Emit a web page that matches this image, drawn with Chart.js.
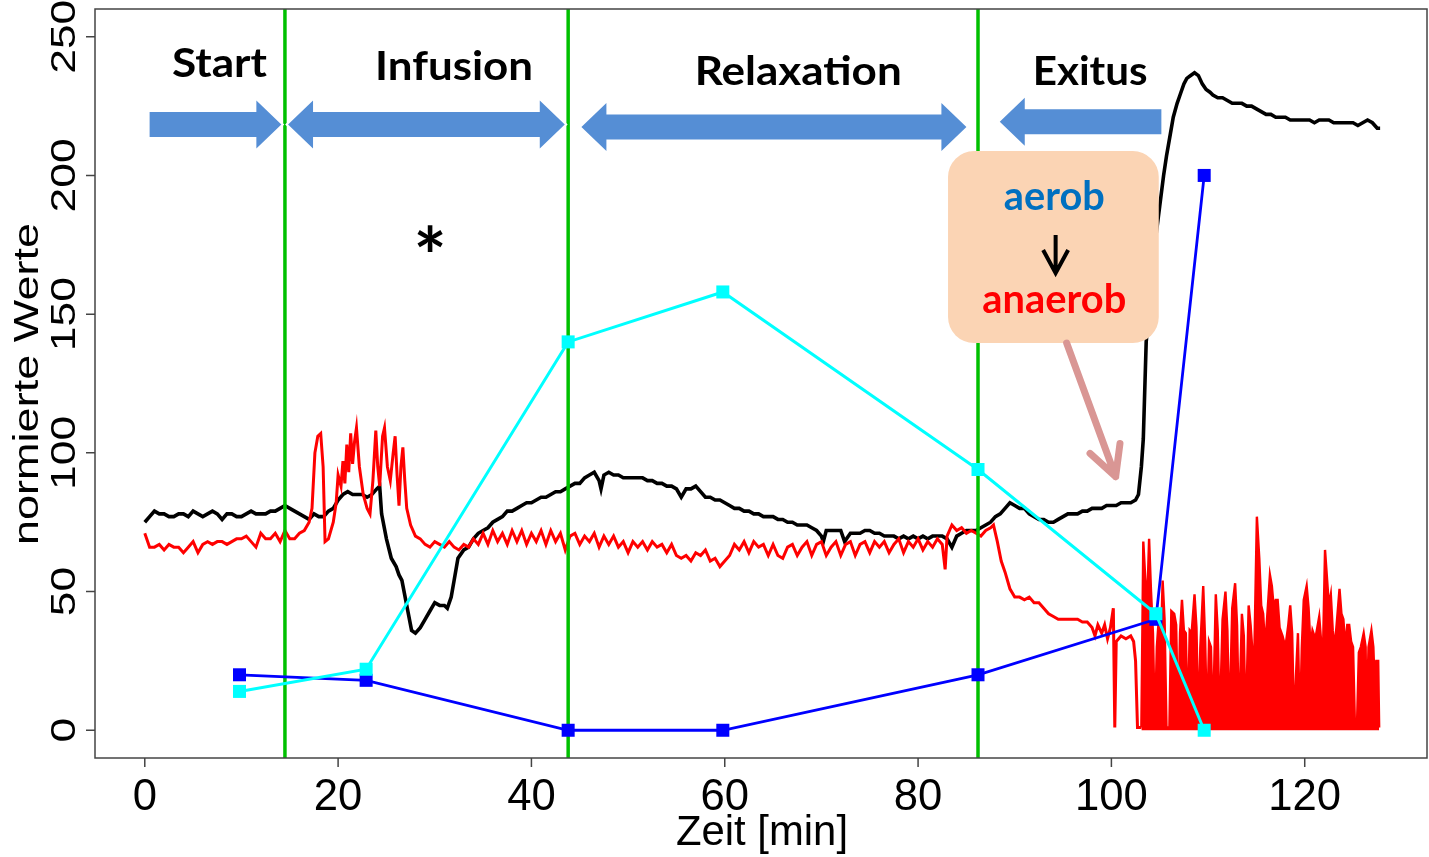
<!DOCTYPE html>
<html>
<head>
<meta charset="utf-8">
<title>normierte Werte</title>
<script src="https://cdn.jsdelivr.net/npm/chart.js@4.4.1/dist/chart.umd.min.js"></script>
<style>
  body { margin: 0; background: #fff; }
  #wrap { width: 1429px; height: 857px; }
</style>
</head>
<body>
<div id="wrap"><canvas id="myChart" width="1429" height="857"></canvas></div>
<script>
// axis ticks
const xTicks = [0, 20, 40, 60, 80, 100, 120];
const yTicks = [0, 50, 100, 150, 200, 250];
const xMin = -5.15, xMax = 132.65, yMin = -10, yMax = 260;

// phases and their borders (min)
const phaseNames = ['Start', 'Infusion', 'Relaxation', 'Exitus'];
const phaseBounds = [14.5, 43.8, 86.2];

// sampled values (squares)
const sampleTimes = [9.8, 22.9, 43.8, 59.8, 86.2, 104.6, 109.6];
const cyanValues = [14, 22, 140, 158, 94, 42, 0];
const blueValues = [20, 18, 0, 0, 20, 40, 200];

// continuous recordings [min, value]
const blackTrace = [
  [0,75],[0.5,77],[1,79],[1.5,78],[2,78],[2.5,77],[3,77],[3.5,78],[4,78],[4.5,77],[5,79],[5.5,78],[6,77],[6.5,78],
  [7,79],[7.5,78],[8,76],[8.5,78],[9,78],[9.5,77],[10,77],[10.5,78],[11,79],[11.5,78],[12,78],[12.5,78],[13,79],
  [13.5,79],[14,80],[14.5,81],[15,80],[15.5,79],[16,78],[16.5,77],[17,76],[17.5,78],[18,77],[18.5,77],[19,79],
  [19.5,80],[20,83],[20.5,85],[21,86],[21.5,85],[22,85],[22.5,85],[23,84],[23.5,85],[24,87],[24.3,88],[24.5,78],
  [25,69],[25.5,62],[26,59],[26.3,56],[26.6,54],[27.1,45],[27.6,36],[28,35],[28.5,37],[29,40],[29.5,43],[30,46],
  [30.5,45],[31,45],[31.3,44],[31.7,48],[32,54],[32.4,62],[33,65],[33.5,66],[34,69],[34.5,71],[35,72],[35.5,73],
  [36,75],[36.5,76],[37,77],[37.5,79],[38,79],[38.5,80],[39,81],[39.5,82],[40,82],[40.5,83],[41,84],[41.5,84],
  [42,85],[42.5,86],[43,86],[43.5,87],[44,88],[44.5,89],[45,89],[45.5,91],[46,92],[46.5,93],[47,90],[47.2,87],
  [47.5,92],[48,93],[48.5,92],[49,92],[49.5,91],[50,91],[50.5,91],[51,91],[51.5,91],[52,90],[52.5,90],[53,89],
  [53.5,89],[54,88],[54.5,88],[55,87],[55.5,84],[56,87],[56.5,87],[57,88],[57.5,86],[58,84],[58.5,84],[59,83],
  [59.5,83],[60,82],[60.5,81],[61,80],[61.5,80],[62,79],[62.5,79],[63,78],[63.5,78],[64,77],[64.5,77],[65,77],
  [65.5,76],[66,76],[66.5,75],[67,75],[67.5,74],[68,74],[68.5,74],[69,73],[69.5,72],[70,70],[70.2,68],[70.5,72],
  [71,72],[71.5,72],[72,72],[72.4,68],[72.8,70],[73,71],[73.5,71],[74,71],[74.5,72],[75,72],[75.5,71],[76,71],
  [76.5,70],[77,70],[77.5,70],[78,69],[78.5,70],[79,69],[79.5,70],[80,69],[80.5,70],[81,69],[81.5,70],[82,70],
  [82.5,70],[83,69],[83.5,66],[84,70],[84.5,71],[85,72],[85.5,72],[86,72],[86.5,73],[87,74],[87.5,75],[88,77],
  [88.5,78],[89,80],[89.5,82],[90,81],[90.5,80],[91,80],[91.5,78],[92,77],[92.5,76],[93,76],[93.5,75],[94,75],
  [94.5,76],[95,77],[95.5,78],[96,78],[96.5,78],[97,79],[97.5,79],[98,80],[98.5,80],[99,80],[99.5,81],[100,81],
  [100.5,81],[101,82],[101.5,82],[102,82],[102.5,83],[102.8,85],[103.1,95],[103.3,105],[103.6,140],[104,155],
  [104.3,165],[104.6,178],[105,189],[105.4,200],[105.7,207],[106.1,215],[106.4,221],[106.8,226],[107.1,229],
  [107.5,233],[107.8,235],[108.2,236],[108.6,237],[109,236],[109.4,233],[109.8,231],[110.2,230],[110.5,229],
  [111,228],[111.5,228],[112,227],[112.5,226],[113,226],[113.5,226],[114,225],[114.5,225],[115,224],[115.5,223],
  [116,222],[116.5,222],[117,221],[117.5,221],[118,221],[118.5,220],[119,220],[119.5,220],[120,220],[120.5,220],
  [121,219],[121.5,220],[122,220],[122.5,220],[123,219],[123.5,219],[124,219],[124.5,219],[125,219],[125.5,218],
  [126,219],[126.5,220],[127,219],[127.5,217],[127.8,217]
];

const redTrace = [
  [0,71],[0.5,66],[1,66],[1.5,67],[2,65],[2.5,67],[3,66],[3.5,66],[4,64],[4.5,66],[5,68],[5.5,64],[6,67],[6.5,68],
  [7,67],[7.5,68],[8,68],[8.5,67],[9,68],[9.5,69],[10,69],[10.5,70],[11,68],[11.5,66],[12,71],[12.5,69],[13,69],
  [13.5,71],[14,68],[14.5,72],[15,69],[15.5,69],[16,71],[16.5,72],[17,75],[17.3,80],[17.6,100],[17.9,106],
  [18.2,107],[18.45,95],[18.65,68],[19,69],[19.5,75],[19.8,82],[20,92],[20.3,88],[20.5,97],[20.7,89],[20.9,103],
  [21.1,93],[21.3,107],[21.5,96],[21.7,104],[21.9,109],[22.2,95],[22.6,85],[23,80],[23.3,78],[23.6,90],[23.9,108],
  [24.1,95],[24.3,88],[24.6,106],[24.8,109],[25.1,95],[25.4,90],[25.7,100],[25.9,106],[26.1,92],[26.3,81],
  [26.5,95],[26.7,102],[26.9,90],[27.1,80],[27.5,74],[28,70],[28.5,69],[29,67],[29.5,66],[30,68],[30.5,67],
  [31,66],[31.5,68],[32,66],[32.5,65],[33,67],[33.5,66],[34,69],[34.5,67],[35,71],[35.5,67],[36,72],[36.5,68],
  [37,71],[37.5,67],[38,72],[38.5,68],[39,72],[39.5,67],[40,71],[40.5,68],[41,72],[41.5,67],[42,72],[42.5,68],
  [43,71],[43.5,65],[44,70],[44.5,71],[45,67],[45.5,70],[46,68],[46.5,71],[47,66],[47.5,70],[48,67],[48.5,70],
  [49,66],[49.5,68],[50,64],[50.5,68],[51,66],[51.5,68],[52,65],[52.5,68],[53,66],[53.5,67],[54,64],[54.5,67],
  [55,63],[55.5,62],[56,63],[56.5,61],[57,64],[57.5,63],[58,65],[58.5,61],[59,62],[59.5,59],[60,61],[60.5,63],
  [61,67],[61.5,65],[62,68],[62.5,64],[63,68],[63.5,66],[64,67],[64.5,63],[65,67],[65.5,63],[66,62],[66.5,66],
  [67,67],[67.5,63],[68,66],[68.5,68],[69,63],[69.5,67],[70,68],[70.5,63],[71,66],[71.5,68],[72,63],[72.5,67],
  [73,68],[73.5,63],[74,67],[74.5,68],[75,64],[75.5,68],[76,66],[76.5,68],[77,64],[77.5,67],[78,69],[78.5,64],
  [79,68],[79.5,66],[80,69],[80.5,65],[81,68],[81.5,66],[82,69],[82.5,67],[82.8,58],[83,70],[83.5,74],[84,72],
  [84.5,73],[85,71],[85.5,72],[86,71],[86.5,70],[87,72],[87.5,73],[87.8,74],[88.2,68],[88.6,61],[89,57],[89.5,51],
  [90,48],[90.5,48],[91,47],[91.5,48],[92,46],[92.5,46],[93,44],[93.5,42],[94,41],[94.5,40],[95,40],[95.5,40],
  [96,40],[96.5,40],[97,39],[97.5,39],[98,37],[98.3,34],[98.6,38],[99,35],[99.3,38],[99.6,33],[99.9,37],
  [100.2,44],[100.35,1],[100.5,32],[101,34],[101.5,33],[102,34],[102.3,32],[102.5,25],[102.7,1],[103.1,1]
];

// after exitus the signal flickers down to zero, drawn as a filled band
const redTail = [
  [103.1,1],[103.3,68],[103.5,55],[103.7,45],[103.9,69],[104.1,50],[104.3,35],[104.5,1],[104.7,30],[104.9,40],
  [105.1,28],[105.3,54],[105.5,40],[105.7,1],[106,1],[106.2,43],[106.5,42],[106.7,38],[106.9,1],[107.1,35],
  [107.3,47],[107.5,36],[107.7,35],[107.9,1],[108.1,36],[108.3,35],[108.6,49],[108.8,37],[109,1],[109.2,30],
  [109.5,52],[109.7,32],[109.9,1],[110.1,32],[110.3,30],[110.5,1],[110.8,49],[111,36],[111.2,1],[111.5,40],
  [111.8,50],[112,36],[112.2,1],[112.5,44],[112.8,53],[113,38],[113.2,1],[113.5,42],[113.7,34],[113.9,1],
  [114.2,45],[114.4,38],[114.6,28],[114.8,30],[115.05,77],[115.3,62],[115.5,45],[115.7,42],[115.9,30],[116.1,40],
  [116.4,56],[116.6,52],[116.8,44],[117,47],[117.2,47],[117.4,37],[117.7,34],[118,30],[118.3,38],[118.5,45],
  [118.7,35],[118.9,1],[119.1,20],[119.3,35],[119.5,1],[119.7,30],[119.9,47],[120.2,52],[120.4,44],[120.6,30],
  [120.8,36],[121.1,33],[121.5,41],[121.7,32],[121.9,30],[122.1,65],[122.3,55],[122.5,45],[122.7,49],[122.9,36],
  [123.1,30],[123.3,38],[123.6,51],[123.8,42],[124,40],[124.2,30],[124.4,38],[124.6,38],[124.8,32],[125,30],
  [125.2,1],[125.4,1],[125.6,28],[125.8,30],[126.1,35],[126.3,30],[126.4,1],[126.6,30],[126.9,36],[127.1,30],
  [127.2,20],[127.4,25],[127.6,25],[127.7,1]
];

// block arrows over the phases: x from/to in min, y centre in axis units
const phaseArrows = [
  { from: 0.5, to: 14.13, y: 218.4, left: false, right: true },
  { from: 14.82, to: 43.45, y: 218.4, left: true, right: true },
  { from: 45.17, to: 85.0, y: 217.5, left: true, right: true },
  { from: 88.45, to: 105.17, y: 219.4, left: true, right: false }
];
// phase label centre x, baseline y, width in px
const phaseLabelPos = [[7.73, 235.5, 95], [32.0, 234.4, 158], [67.6, 232.6, 207], [97.8, 232.6, 115]];

function toPoints(pairs) {
    return pairs.map(p => ({ x: p[0], y: p[1] }));
}

function textStretch(ctx, str, font, width) {
    ctx.save();
    ctx.font = font;
    let w = ctx.measureText(str).width;
    ctx.restore();
    return width / w;
}

function drawText(ctx, str, px, py, font, color, stretch, angle) {
    ctx.save();
    ctx.font = font;
    ctx.fillStyle = color;
    ctx.textAlign = 'center';
    ctx.textBaseline = 'alphabetic';
    ctx.translate(px, py);
    if (angle) ctx.rotate(angle);
    ctx.scale(stretch, 1);
    ctx.fillText(str, 0, 0);
    ctx.restore();
}

function blockArrow(ctx, x0, x1, yc, left, right) {
    const head = 25, hh = 24, sh = 12.5;
    let pts = [];
    if (left) pts.push([x0 + head, yc + sh], [x0 + head, yc + hh], [x0, yc], [x0 + head, yc - hh], [x0 + head, yc - sh]);
    else pts.push([x0, yc + sh], [x0, yc - sh]);
    if (right) pts.push([x1 - head, yc - sh], [x1 - head, yc - hh], [x1, yc], [x1 - head, yc + hh], [x1 - head, yc + sh]);
    else pts.push([x1, yc - sh], [x1, yc + sh]);
    ctx.beginPath();
    pts.forEach((p, i) => i ? ctx.lineTo(p[0], p[1]) : ctx.moveTo(p[0], p[1]));
    ctx.closePath();
    ctx.lineJoin = 'miter';
    ctx.strokeStyle = '#fff';
    ctx.lineWidth = 4;
    ctx.stroke();
    ctx.fillStyle = '#558ED5';
    ctx.fill();
}

function roundBox(ctx, x0, y0, x1, y1, r) {
    ctx.beginPath();
    ctx.moveTo(x0 + r, y0);
    ctx.lineTo(x1 - r, y0);
    ctx.arcTo(x1, y0, x1, y0 + r, r);
    ctx.lineTo(x1, y1 - r);
    ctx.arcTo(x1, y1, x1 - r, y1, r);
    ctx.lineTo(x0 + r, y1);
    ctx.arcTo(x0, y1, x0, y1 - r, r);
    ctx.lineTo(x0, y0 + r);
    ctx.arcTo(x0, y0, x0 + r, y0, r);
    ctx.closePath();
}

// arrows, phase names and the aerob/anaerob note
const notes = {
    id: 'notes',
    afterDatasetsDraw(chart) {
        const { ctx, scales: { x, y } } = chart;
        ctx.save();
        phaseArrows.forEach(a => blockArrow(ctx, x.getPixelForValue(a.from), x.getPixelForValue(a.to), y.getPixelForValue(a.y), a.left, a.right));

        const bold = 'bold 40px Lato';
        phaseNames.forEach((name, i) => {
            let [t, v, w] = phaseLabelPos[i];
            drawText(ctx, name, x.getPixelForValue(t), y.getPixelForValue(v), bold, '#000', textStretch(ctx, name, bold, w));
        });
        drawText(ctx, '*', x.getPixelForValue(29.3) + 2, y.getPixelForValue(175.7) + 42, 'bold 78px Lato', '#000', 1);

        // note box
        ctx.fillStyle = '#FBD4B4';
        roundBox(ctx, x.getPixelForValue(83.1), y.getPixelForValue(208.8), x.getPixelForValue(104.9), y.getPixelForValue(139.6), 26);
        ctx.fill();
        let bx = x.getPixelForValue(94.1);
        drawText(ctx, 'aerob', bx, y.getPixelForValue(187.5), bold, '#0070C0', textStretch(ctx, 'aerob', bold, 101));
        drawText(ctx, 'anaerob', bx, y.getPixelForValue(150.4), bold, '#FF0000', textStretch(ctx, 'anaerob', bold, 144));

        // small down arrow in the box
        let ax = x.getPixelForValue(94.23), top = y.getPixelForValue(178.5), tip = y.getPixelForValue(164.8), arm = y.getPixelForValue(173.1);
        ctx.strokeStyle = '#000';
        ctx.lineWidth = 4;
        ctx.lineCap = 'butt';
        ctx.beginPath();
        ctx.moveTo(ax, top); ctx.lineTo(ax, tip - 2);
        ctx.moveTo(ax - 12.5, arm); ctx.lineTo(ax, tip); ctx.lineTo(ax + 12.5, arm);
        ctx.stroke();

        // pointer towards the drop
        ctx.strokeStyle = '#D99694';
        ctx.lineWidth = 7;
        ctx.lineCap = 'round';
        ctx.lineJoin = 'round';
        let tx = x.getPixelForValue(100.44), ty = y.getPixelForValue(91.4);
        ctx.beginPath();
        ctx.moveTo(x.getPixelForValue(95.37), y.getPixelForValue(139.6));
        ctx.lineTo(tx, ty);
        ctx.moveTo(x.getPixelForValue(97.79), y.getPixelForValue(99.8));
        ctx.lineTo(tx, ty);
        ctx.lineTo(x.getPixelForValue(100.89), y.getPixelForValue(103.4));
        ctx.stroke();
        ctx.restore();
    },
    afterDraw(chart) {
        const { ctx, chartArea: a, scales: { x, y } } = chart;
        ctx.save();
        ctx.strokeStyle = '#444';
        ctx.lineWidth = 1.5;
        ctx.strokeRect(a.left, a.top, a.right - a.left, a.bottom - a.top);
        ctx.beginPath();
        xTicks.forEach(t => { let px = x.getPixelForValue(t); ctx.moveTo(px, a.bottom); ctx.lineTo(px, a.bottom + 9); });
        yTicks.forEach(v => { let py = y.getPixelForValue(v); ctx.moveTo(a.left, py); ctx.lineTo(a.left - 9, py); });
        ctx.stroke();

        const axisFont = '45px "Liberation Sans"';
        xTicks.forEach(t => drawText(ctx, String(t), x.getPixelForValue(t), 810, axisFont, '#000', 0.97));
        const yFont = '35px "Liberation Sans"';
        yTicks.forEach(v => drawText(ctx, String(v), 75, y.getPixelForValue(v), yFont, '#000', 1.27, -Math.PI / 2));

        const titleFont = '42px "Liberation Sans"';
        drawText(ctx, 'Zeit [min]', 762, 845, titleFont, '#000', textStretch(ctx, 'Zeit [min]', titleFont, 172));
        const yTitleFont = '35px "Liberation Sans"';
        drawText(ctx, 'normierte Werte', 38, 384, yTitleFont, '#000', textStretch(ctx, 'normierte Werte', yTitleFont, 322), -Math.PI / 2);
        ctx.restore();
    }
};

let datasets = [
    { data: toPoints(blackTrace), borderColor: '#000', borderWidth: 3.6, order: 6 },
    { data: toPoints(redTrace), borderColor: '#FF0000', borderWidth: 3, order: 5 },
    { data: toPoints(redTail), borderColor: '#FF0000', backgroundColor: '#FF0000', borderWidth: 2.4, fill: 'origin', order: 5 }
];
phaseBounds.forEach(t => datasets.push({
    data: [{ x: t, y: yMin }, { x: t, y: yMax }], borderColor: '#00C000', borderWidth: 3.5, order: 4
}));
datasets.push({
    data: sampleTimes.map((t, i) => ({ x: t, y: blueValues[i] })),
    borderColor: '#0000FF', backgroundColor: '#0000FF', borderWidth: 2.8,
    pointStyle: 'rect', pointRadius: 9.2, pointBorderWidth: 0, order: 3
});
datasets.push({
    data: sampleTimes.map((t, i) => ({ x: t, y: cyanValues[i] })),
    borderColor: '#00FFFF', backgroundColor: '#00FFFF', borderWidth: 3,
    pointStyle: 'rect', pointRadius: 9.2, pointBorderWidth: 0, order: 2
});
datasets.forEach(d => {
    if (d.pointRadius === undefined) d.pointRadius = 0;
    d.tension = 0;
    if (d.fill === undefined) d.fill = false;
});

const ctx = document.getElementById('myChart').getContext('2d');
let myChart = new Chart(ctx, {
    type: 'line',
    data: { datasets: datasets },
    options: {
        responsive: false,
        devicePixelRatio: 1,
        animation: false,
        layout: { autoPadding: false, padding: { left: 95, top: 9, right: 2, bottom: 99 } },
        scales: {
            x: { type: 'linear', min: xMin, max: xMax, display: false },
            y: { type: 'linear', min: yMin, max: yMax, display: false }
        },
        plugins: { legend: { display: false }, tooltip: { enabled: false } }
    },
    plugins: [notes]
});
</script>
</body>
</html>
